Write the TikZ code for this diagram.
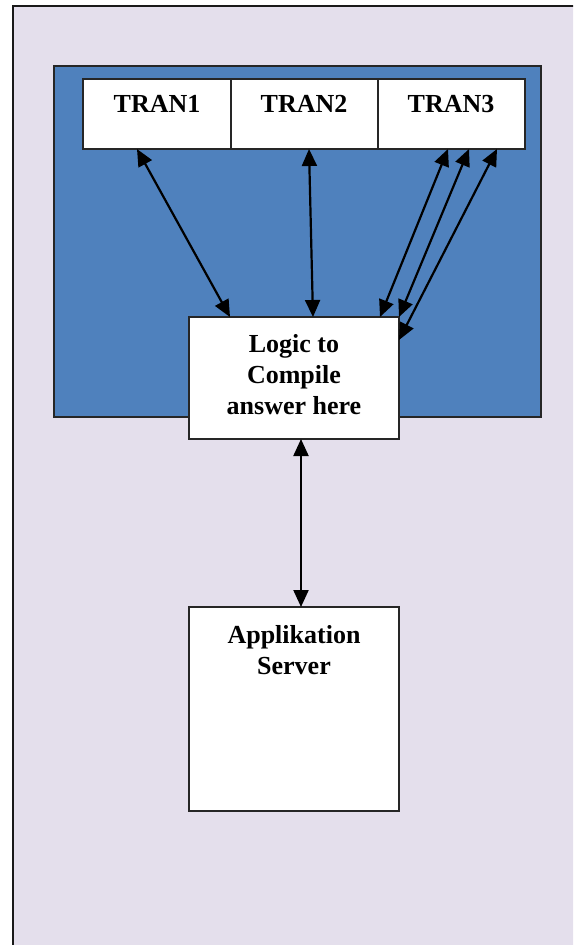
\documentclass[tikz,border=0pt]{standalone}
\usepackage{fontspec}
\setmainfont{Liberation Serif}
\usetikzlibrary{arrows.meta}
\definecolor{lav}{RGB}{228,223,236}
\definecolor{blu}{RGB}{79,129,189}
\begin{document}
\begin{tikzpicture}[x=1pt,y=-1pt,
  box/.style={draw=black!85,line width=1.3pt,fill=white,inner sep=0pt,outer sep=0pt,anchor=north west},
  lbl/.style={font=\bfseries\fontsize{26}{31}\selectfont,align=center,anchor=north,inner sep=0pt,text=black},
  arr/.style={line width=2.2pt,{Triangle[length=17pt,width=15pt]}-{Triangle[length=17pt,width=15pt]}}]
\useasboundingbox (0,0) rectangle (573,945);
\begin{scope}
\clip (0,0) rectangle (573,945);
\node[draw=black!90,line width=2pt,fill=lav,anchor=north west,minimum width=600pt,minimum height=980pt,inner sep=0pt,outer sep=0pt] (outer) at (13,6) {};
\end{scope}
\node[draw=black!85,line width=1.3pt,fill=blu,anchor=north west,minimum width=487pt,minimum height=351pt,inner sep=0pt,outer sep=0pt] (blue) at (54,66) {};
\node[box,minimum width=148pt,minimum height=70pt] (t1) at (83,79) {};
\node[box,minimum width=147pt,minimum height=70pt] (t2) at (231,79) {};
\node[box,minimum width=147pt,minimum height=70pt] (t3) at (378,79) {};
\node[box,minimum width=210pt,minimum height=122pt] (logic) at (189,317) {};
\node[box,minimum width=210pt,minimum height=204pt] (app) at (189,607) {};
\node[lbl] (l1) at (157,95.5) {TRAN1};
\node[lbl] (l2) at (304,95.5) {TRAN2};
\node[lbl] (l3) at (451,95.5) {TRAN3};
\node[lbl] (l4) at (294,334.5) {Logic to\\Compile\\answer here};
\node[lbl] (l5) at (294,625.5) {Applikation\\Server};
\draw[arr] ([xshift=-20pt]t1.south) -- ([xshift=-64pt]logic.north);
\draw[arr] ([xshift=4.5pt]t2.south) -- ([xshift=19pt]logic.north);
\draw[arr] ([xshift=-3.5pt]t3.south) -- ([xshift=86pt]logic.north);
\draw[arr] ([xshift=17.5pt]t3.south) -- (logic.north east);
\draw[arr] ([xshift=45.5pt]t3.south) -- ([yshift=38pt]logic.east);
\draw[arr] ([xshift=7pt]logic.south) -- ([xshift=7pt]app.north);
\end{tikzpicture}
\end{document}
